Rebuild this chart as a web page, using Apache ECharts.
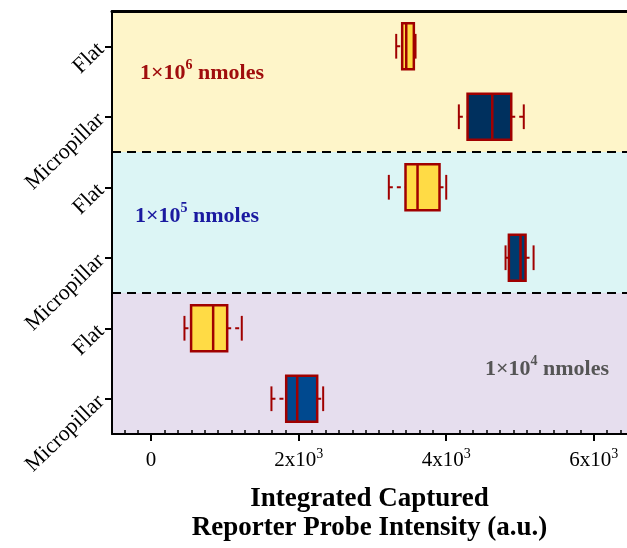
<!DOCTYPE html>
<html style="height: 100%">

<head>
    <meta charset="utf-8">
</head>

<body style="height: 100%; margin: 0; background: #fff">
    <div id="container" style="width: 627px; height: 548px"></div>
    <script src="https://cdn.jsdelivr.net/npm/echarts@6/dist/echarts.min.js"></script>
    <script type="text/javascript">
        // rows top to bottom
        var rowLabels = ['Flat', 'Micropillar', 'Flat', 'Micropillar', 'Flat', 'Micropillar'];
        var whiskerLow = [3322, 4171, 3222, 4804, 452, 1631];
        var q1 = [3403, 4289, 3448, 4849, 542, 1831];
        var median = [3458, 4624, 3611, 5007, 841, 1980];
        var q3 = [3561, 4881, 3909, 5075, 1031, 2251];
        var whiskerHigh = [3584, 5051, 4000, 5184, 1229, 2332];
        var boxFill = ['#FFDB45', '#00305E', '#FFDB45', '#003A6E', '#FFDB45', '#00498F'];

        var xTicks = [0, 2000, 4000, 6000];
        var xTickLabels = ['0', '2x10{s|3}', '4x10{s|3}', '6x10{s|3}'];

        // shaded groups, in row units (0..6 from the top)
        var bandStart = [0, 2, 4];
        var bandEnd = [2, 4, 6];
        var bandColor = ['#FEF5C9', '#DCF5F5', '#E6DEEE'];
        var bandText = ['6', '5', '4'];
        var bandTextColor = ['#A00D0D', '#1A1AA0', '#555555'];

        var xMin = -530, xMax = 6450;
        var minorTicks = [];
        for (var k = -2; k * 2000 / 11 <= xMax; k++) {
            if (k % 11 !== 0) minorTicks.push(k * 2000 / 11);
        }

        var serif = "'Liberation Serif', 'Times New Roman', serif";
        var red = '#A00000';

        var boxData = [];
        for (var i = 0; i < rowLabels.length; i++) {
            boxData.push([i, whiskerLow[i], q1[i], median[i], q3[i], whiskerHigh[i]]);
        }

        var dom = document.getElementById("container");
        var myChart = echarts.init(dom);

        var option = {
            animation: false,
            grid: { left: 112, top: 11, right: 0, bottom: 114 },
            xAxis: [
                {
                    type: 'value', position: 'bottom', min: xMin, max: xMax, z: 10,
                    splitLine: { show: false },
                    axisLine: { show: true, onZero: false, lineStyle: { color: '#000', width: 2 } },
                    axisTick: { show: true, customValues: xTicks, length: 7, lineStyle: { color: '#000', width: 2 } },
                    axisLabel: {
                        customValues: xTicks, margin: 13,
                        formatter: function (v) { return xTickLabels[xTicks.indexOf(v)]; },
                        fontFamily: serif, fontSize: 21, color: '#000', lineHeight: 26,
                        rich: {
                            s: { fontFamily: serif, fontSize: 14, color: '#000', verticalAlign: 'top', lineHeight: 14 }
                        }
                    },
                    name: 'Integrated Captured\nReporter Probe Intensity (a.u.)',
                    nameLocation: 'middle', nameGap: 51,
                    nameTextStyle: { fontFamily: serif, fontSize: 27, fontWeight: 'bold', color: '#000', lineHeight: 29 }
                },
                {
                    type: 'value', position: 'bottom', min: xMin, max: xMax, z: 10,
                    splitLine: { show: false },
                    axisLine: { show: false, onZero: false },
                    axisTick: { show: true, inside: true, customValues: minorTicks, length: 4, lineStyle: { color: '#000', width: 1.5 } },
                    axisLabel: { show: false }
                },
                {
                    type: 'value', position: 'top', min: xMin, max: xMax, z: 10,
                    splitLine: { show: false },
                    axisLine: { show: true, onZero: false, lineStyle: { color: '#000', width: 3 } },
                    axisTick: { show: false },
                    axisLabel: { show: false }
                }
            ],
            yAxis: [
                {
                    type: 'category', inverse: true, data: rowLabels, z: 10,
                    axisLine: { show: true, onZero: false, lineStyle: { color: '#000', width: 2 } },
                    axisTick: { show: true, alignWithLabel: true, length: 7, lineStyle: { color: '#000', width: 2 } },
                    axisLabel: {
                        rotate: 44, margin: 11,
                        fontFamily: serif, fontSize: 22, color: '#000',
                        formatter: function (v, idx) { return rowLabels[idx]; }
                    }
                },
                { type: 'value', inverse: true, min: 0, max: 6, show: false }
            ],
            graphic: bandText.map(function (t, i) {
                var pos = [[140, 58], [135, 201], [485, 354]][i];
                return {
                    type: 'text', left: pos[0], top: pos[1], z: 20,
                    style: {
                        text: '{b|1×10}{s|' + t + '}{b| nmoles}',
                        rich: {
                            b: { fontFamily: serif, fontSize: 22, fontWeight: 'bold', fill: bandTextColor[i], lineHeight: 30 },
                            s: { fontFamily: serif, fontSize: 14, fontWeight: 'bold', fill: bandTextColor[i], verticalAlign: 'top', lineHeight: 30, padding: [0, 0, 10, 0] }
                        }
                    }
                };
            }),
            series: [
                {
                    type: 'line', xAxisIndex: 0, yAxisIndex: 1, data: [], silent: true, z: 1,
                    markArea: {
                        silent: true,
                        data: bandStart.map(function (s, i) {
                            return [{ yAxis: s, itemStyle: { color: bandColor[i] } }, { yAxis: bandEnd[i] }];
                        })
                    },
                    markLine: {
                        silent: true, symbol: 'none', label: { show: false },
                        lineStyle: { color: '#000', width: 2, type: [9, 6] },
                        data: [{ yAxis: 2 }, { yAxis: 4 }]
                    }
                },
                {
                    type: 'custom', xAxisIndex: 0, yAxisIndex: 0, z: 12,
                    encode: { x: [1, 2, 3, 4, 5], y: 0 },
                    data: boxData,
                    renderItem: function (params, api) {
                        var row = api.value(0);
                        var c = function (v) { return api.coord([v, row]); };
                        var h = api.size([0, 1])[1] * 0.65;
                        var lo = c(api.value(1)), a = c(api.value(2)), m = c(api.value(3)),
                            b = c(api.value(4)), hi = c(api.value(5));
                        var y = lo[1];
                        var cap = h * 0.27;
                        var dash = { stroke: red, lineWidth: 2, lineDash: [4, 4] };
                        var solid = { stroke: red, lineWidth: 2 };
                        return {
                            type: 'group', children: [
                                { type: 'line', shape: { x1: lo[0], y1: y, x2: a[0], y2: y }, style: dash },
                                { type: 'line', shape: { x1: b[0], y1: y, x2: hi[0], y2: y }, style: dash },
                                { type: 'line', shape: { x1: lo[0], y1: y - cap, x2: lo[0], y2: y + cap }, style: solid },
                                { type: 'line', shape: { x1: hi[0], y1: y - cap, x2: hi[0], y2: y + cap }, style: solid },
                                {
                                    type: 'rect', shape: { x: a[0], y: y - h / 2, width: b[0] - a[0], height: h },
                                    style: { fill: boxFill[params.dataIndex], stroke: red, lineWidth: 2.5 }
                                },
                                { type: 'line', shape: { x1: m[0], y1: y - h / 2, x2: m[0], y2: y + h / 2 }, style: { stroke: red, lineWidth: 2.5 } }
                            ]
                        };
                    }
                }
            ]
        };

        myChart.setOption(option, true);
    </script>
</body>

</html>
